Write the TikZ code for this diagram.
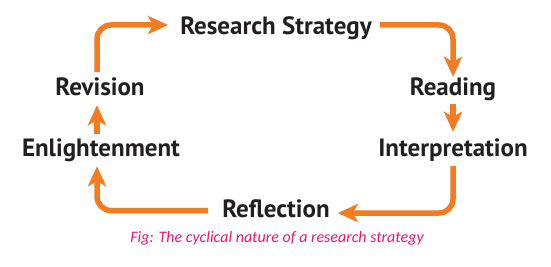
\documentclass[tikz,border=0pt]{standalone}
\usepackage{fontspec}
\usetikzlibrary{arrows.meta}
\newfontfamily\stagefont{PT Sans}
\newfontfamily\capfont{Carlito}
\definecolor{Flame}{HTML}{F47B20}
\definecolor{Ink}{HTML}{231F20}
\definecolor{Rose}{HTML}{E2197B}
\begin{document}
\begin{tikzpicture}[x=1pt,y=-1pt,stage/.style={font=\stagefont\bfseries\fontsize{25}{28}\selectfont,text=Ink,inner sep=0pt,text height=18pt,text depth=5pt,anchor=base},cyc/.style={-{Stealth[length=20pt,width=18pt,inset=5pt]},line width=5.5pt,draw=Flame,rounded corners=14pt}]
\useasboundingbox[fill=white] (0,0) rectangle (551,267);
\node[stage] (strat) at (276,35){Research Strategy};
\node[stage] (reading) at (453,96){Reading};
\node[stage] (interp) at (453,157){Interpretation};
\node[stage] (refl) at (276,217){Reflection};
\node[stage] (enlight) at (101,156){Enlightenment};
\node[stage] (revision) at (100,96){Revision};
\node[font=\capfont\itshape\fontsize{16}{19}\selectfont,text=Rose] (caption) at (277,238){Fig: The cyclical nature of a research strategy};
\draw[cyc,shorten <=6pt,shorten >=12pt] ([xshift=-3pt]revision.north) |- ([yshift=3.5pt]strat.west);
\draw[cyc,shorten <=8pt,shorten >=1pt] ([yshift=3.5pt]strat.east) -| (reading.north);
\draw[cyc,shorten <=3pt,shorten >=7pt] (reading.south) -- (interp.north);
\draw[cyc,shorten <=4pt,shorten >=8pt] (interp.south) |- ([yshift=-2.5pt]refl.east);
\draw[cyc,shorten <=14pt,shorten >=5pt] (refl.west) -| ([xshift=-4pt]enlight.south);
\draw[cyc,shorten <=4pt,shorten >=4pt] ([xshift=-4pt]enlight.north) -- ([xshift=-3pt]revision.south);
\end{tikzpicture}
\end{document}
